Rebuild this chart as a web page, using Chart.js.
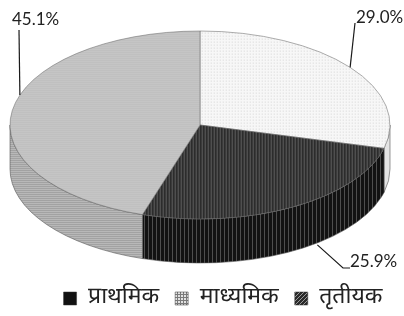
<!DOCTYPE html>
<html>
<head>
<meta charset="utf-8">
<script src="https://cdn.jsdelivr.net/npm/chart.js@4.4.1/dist/chart.umd.min.js"></script>
<style>
  html, body { margin:0; padding:0; background:#fff; }
  #wrap { width:404px; height:316px; position:relative; }
</style>
</head>
<body>
<div id="wrap"><canvas id="pie"></canvas></div>
<script>
// slice order as drawn clockwise from 12 o'clock
const categories = ['प्राथमिक', 'तृतीयक', 'माध्यमिक'];
const values = [29.0, 25.9, 45.1];
// order of entries in the legend
const legendOrder = ['प्राथमिक', 'माध्यमिक', 'तृतीयक'];

// 3d look: ellipse of the top face and height of the wall
const EX = 200, EY = 125, RX = 190, RY = 94, DEPTH = 44;
const FONT_HI = "'Noto Sans Devanagari', 'Lohit Devanagari', 'Mangal', 'FreeSans', 'Noto Sans', sans-serif";
const FONT_NUM = "Lato, 'Open Sans', sans-serif";

function makePattern(w, h, bg, draw){
  const c = document.createElement('canvas'); c.width = w; c.height = h;
  const g = c.getContext('2d');
  g.fillStyle = bg; g.fillRect(0, 0, w, h);
  if(draw) draw(g);
  return g.createPattern(c, 'repeat');
}
function px(g, color, x, y, w, h){ g.fillStyle = color; g.fillRect(x, y, w, h); }

// top faces
const topFill = {
  'प्राथमिक': makePattern(3, 3, '#f7f7f7', g => px(g, '#d6d6d6', 0, 0, 1, 1)),
  'तृतीयक': makePattern(3, 1, '#2c2c2c', g => px(g, '#5e5e5e', 0, 0, 1, 1)),
  'माध्यमिक': makePattern(1, 2, '#cdcdcd', g => px(g, '#b8b8b8', 0, 0, 1, 1))
};
// side walls
const wallFill = {
  'प्राथमिक': '#e4e4e4',
  'तृतीयक': makePattern(4, 1, '#121212', g => px(g, '#4e4e4e', 0, 0, 1, 1)),
  'माध्यमिक': makePattern(1, 2, '#b8b8b8', g => px(g, '#a2a2a2', 0, 0, 1, 1))
};
// legend swatches
const legendFill = {
  'प्राथमिक': '#111',
  'माध्यमिक': makePattern(3, 3, '#e2e2e2', g => { px(g, '#7a7a7a', 0, 0, 3, 1); px(g, '#7a7a7a', 0, 0, 1, 3); }),
  'तृतीयक': makePattern(4, 4, '#2a2a2a', g => { for(let i=0;i<4;i++) px(g, '#9a9a9a', 3-i, i, 1, 1); })
};

// where each percent label sits (text anchor, leader elbow, nudge of the leader start)
const labelLayout = {
  'प्राथमिक': { tx: 356, ty: 18, elbow: [[355, 23]], nudge: 0 },
  'माध्यमिक': { tx: 12, ty: 20, elbow: [[19, 30]], nudge: 0.17 },
  'तृतीयक': { tx: 350, ty: 262, elbow: [[343, 268], [350, 268]], nudge: -0.16, onWall: true }
};

function ellPt(a, dy){ return [EX + RX*Math.cos(a), EY + RY*Math.sin(a) + (dy||0)]; }

const pie3d = {
  id: 'pie3d',
  beforeDatasetsDraw(chart){
    const ctx = chart.ctx;
    const arcs = chart.getDatasetMeta(0).data;
    // walls (front half only: angles 0..PI)
    arcs.forEach((arc, i) => {
      const s = Math.max(arc.startAngle, 0), e = Math.min(arc.endAngle, Math.PI);
      if(e <= s) return;
      ctx.save();
      ctx.beginPath();
      ctx.ellipse(EX, EY, RX, RY, 0, s, e);
      ctx.ellipse(EX, EY + DEPTH, RX, RY, 0, e, s, true);
      ctx.closePath();
      ctx.fillStyle = wallFill[categories[i]];
      ctx.fill();
      ctx.strokeStyle = '#555'; ctx.lineWidth = 0.6;
      ctx.stroke();
      ctx.restore();
    });
    // squash the library's circle onto the top ellipse
    const a0 = arcs[0];
    const sx = RX / a0.outerRadius, sy = RY / a0.outerRadius;
    Object.values(topFill).forEach(p => { if(p.setTransform) p.setTransform(new DOMMatrix([1/sx, 0, 0, 1/sy, 0, 0])); });
    ctx.save();
    ctx.translate(EX, EY);
    ctx.scale(sx, sy);
    ctx.translate(-a0.x, -a0.y);
  },
  afterDatasetsDraw(chart){
    const ctx = chart.ctx;
    ctx.restore();
    const arcs = chart.getDatasetMeta(0).data;
    const total = values.reduce((a, b) => a + b, 0);
    ctx.save();
    ctx.strokeStyle = '#1a1a1a'; ctx.lineWidth = 1.2;
    ctx.fillStyle = '#222';
    ctx.font = '17px ' + FONT_NUM;
    ctx.textBaseline = 'middle';
    ctx.textAlign = 'left';
    arcs.forEach((arc, i) => {
      const cat = categories[i], lay = labelLayout[cat];
      const mid = (arc.startAngle + arc.endAngle) / 2 + lay.nudge;
      const p = ellPt(mid, lay.onWall ? DEPTH + 2 : 0);
      ctx.beginPath();
      ctx.moveTo(p[0], p[1]);
      lay.elbow.forEach(q => ctx.lineTo(q[0], q[1]));
      ctx.stroke();
      ctx.fillText((values[i] / total * 100).toFixed(1) + '%', lay.tx, lay.ty);
    });
    ctx.restore();
  }
};

new Chart(document.getElementById('pie'), {
  type: 'pie',
  data: {
    labels: categories,
    datasets: [{
      data: values,
      backgroundColor: categories.map(c => topFill[c]),
      borderColor: '#6a6a6a',
      borderWidth: 0.5
    }]
  },
  options: {
    responsive: true,
    maintainAspectRatio: false,
    devicePixelRatio: 1,
    animation: false,
    events: [],
    layout: { padding: { top: 10, bottom: -4, left: 42 } },
    plugins: {
      tooltip: { enabled: false },
      legend: {
        position: 'bottom',
        labels: {
          boxWidth: 13, boxHeight: 13, padding: 16,
          color: '#222',
          font: { size: 23, family: FONT_HI },
          sort: (a, b) => legendOrder.indexOf(a.text) - legendOrder.indexOf(b.text),
          generateLabels: chart => categories.map((c, i) => ({
            text: c, fillStyle: legendFill[c], strokeStyle: '#333', lineWidth: 0.5,
            fontColor: '#222', hidden: false, index: i
          }))
        }
      }
    }
  },
  plugins: [pie3d]
});
</script>
</body>
</html>
